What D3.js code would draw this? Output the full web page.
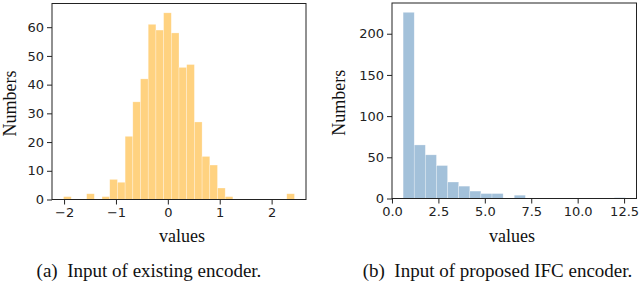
<!DOCTYPE html>
<html>
<head>
<meta charset="utf-8">
<script src="https://cdn.jsdelivr.net/npm/d3@7"></script>
<style>
  body { margin: 0; background: #fff; }
  svg { display: block; }
  .tick-label { font-family: 'DejaVu Sans', sans-serif; font-size: 13px; fill: #222; }
  .serif { font-family: 'Liberation Serif', 'Times New Roman', serif; fill: #111; white-space: pre; }
</style>
</head>
<body>
<div id="chartContainer"></div>
<script>
// Histogram (a): existing encoder, 30 bins between min and max
const countsA = [1, 0, 0, 2, 0, 1, 7, 6, 22, 34, 42, 61, 59, 65, 58, 46, 47, 27, 15, 12, 4, 1, 0, 0, 0, 0, 0, 0, 0, 2];
const rangeA = [-2.01, 2.44];
const xTicksA = [-2, -1, 0, 1, 2];
const yTicksA = [0, 10, 20, 30, 40, 50, 60];

// Histogram (b): proposed IFC encoder, 20 bins between min and max
const countsB = [226, 65, 53, 40, 20, 15, 9, 6, 6, 0, 4, 0, 0, 0, 0, 0, 0, 0, 0, 1];
const rangeB = [0.6, 12.57];
const xTicksB = [0, 2.5, 5, 7.5, 10, 12.5];
const yTicksB = [0, 50, 100, 150, 200];

const captions = ['(a)  Input of existing encoder.', '(b)  Input of proposed IFC encoder.'];

const width = 640;
const height = 282;

const svg = d3
  .select('#chartContainer')
  .append('svg')
  .attr('width', width)
  .attr('height', height);

function drawPanel(p) {
  const n = p.counts.length;
  const step = (p.range[1] - p.range[0]) / n;
  const span = p.range[1] - p.range[0];
  // matplotlib style 5% x-margins, 5% headroom on y
  const x = d3.scaleLinear()
    .domain([p.range[0] - 0.05 * span, p.range[1] + 0.05 * span])
    .range([p.left, p.right]);
  const y = d3.scaleLinear()
    .domain([0, d3.max(p.counts) * 1.05])
    .range([p.bottom, p.top]);

  const g = svg.append('g');

  // bars
  g.selectAll('.bar')
    .data(p.counts)
    .enter()
    .append('rect')
    .attr('class', 'bar')
    .attr('x', (d, i) => x(p.range[0] + i * step))
    .attr('width', x(p.range[0] + step) - x(p.range[0]))
    .attr('y', d => y(d))
    .attr('height', d => y(0) - y(d))
    .attr('fill', p.color)
    .attr('stroke', '#ffffff')
    .attr('stroke-opacity', 0.45)
    .attr('stroke-width', 0.6);

  // axes
  const xAxis = d3.axisBottom(x)
    .tickValues(p.xTicks)
    .tickFormat(p.xFormat)
    .tickSize(5)
    .tickPadding(3);
  const yAxis = d3.axisLeft(y)
    .tickValues(p.yTicks)
    .tickSize(5)
    .tickPadding(3);

  const gx = g.append('g')
    .attr('transform', `translate(0,${p.bottom})`)
    .call(xAxis);
  const gy = g.append('g')
    .attr('transform', `translate(${p.left},0)`)
    .call(yAxis);
  [gx, gy].forEach(a => {
    a.select('.domain').remove();
    a.selectAll('line').attr('stroke', '#222').attr('stroke-width', 1);
    a.selectAll('text').attr('class', 'tick-label').attr('fill', null);
  });

  // frame
  g.append('rect')
    .attr('x', p.left)
    .attr('y', p.top)
    .attr('width', p.right - p.left)
    .attr('height', p.bottom - p.top)
    .attr('fill', 'none')
    .attr('stroke', '#222')
    .attr('stroke-width', 1);

  // labels
  g.append('text')
    .attr('class', 'serif')
    .attr('transform', `translate(${p.yLabelX},${(p.top + p.bottom) / 2 + 2}) rotate(-90)`)
    .attr('text-anchor', 'middle')
    .style('font-size', '18px')
    .text('Numbers');
  g.append('text')
    .attr('class', 'serif')
    .attr('x', p.xLabelX)
    .attr('y', 241.5)
    .attr('text-anchor', 'middle')
    .style('font-size', '18px')
    .text('values');
  g.append('text')
    .attr('class', 'serif')
    .attr('x', p.captionX)
    .attr('y', 276.5)
    .attr('text-anchor', 'middle')
    .style('font-size', '19px')
    .text(p.caption);
}

drawPanel({
  counts: countsA, range: rangeA, xTicks: xTicksA, yTicks: yTicksA,
  xFormat: d3.format('d'),
  left: 52, right: 306, top: 3.5, bottom: 199.5,
  color: '#ffd280',
  yLabelX: 15.5, xLabelX: 182, captionX: 149,
  caption: captions[0]
});

drawPanel({
  counts: countsB, range: rangeB, xTicks: xTicksB, yTicks: yTicksB,
  xFormat: d3.format('.1f'),
  left: 392, right: 636.5, top: 3, bottom: 198.5,
  color: '#a3c1da',
  yLabelX: 345, xLabelX: 512, captionX: 497.5,
  caption: captions[1]
});
</script>
</body>
</html>
